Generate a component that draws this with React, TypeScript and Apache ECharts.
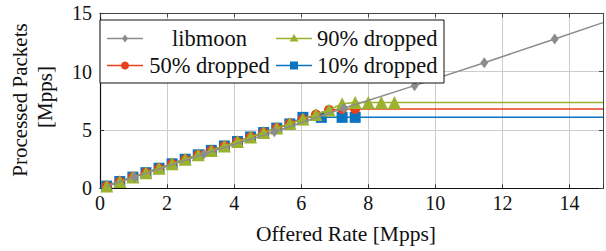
import React, { useEffect, useRef } from "react";
import * as echarts from "echarts";

// Offered rate [Mpps] for the three "dropped" runs
const dropX = [0.2, 0.59, 0.98, 1.37, 1.76, 2.15, 2.54, 2.93, 3.32, 3.71, 4.1, 4.49, 4.88, 5.27, 5.66, 6.05, 6.44, 6.83, 7.22, 7.61, 8.0, 8.39, 8.78];
// Processed packets [Mpps]
const dropped90 = [0.19, 0.58, 0.96, 1.34, 1.72, 2.1, 2.49, 2.87, 3.25, 3.63, 4.01, 4.4, 4.78, 5.16, 5.55, 5.93, 6.33, 6.72, 7.25, 7.35, 7.35, 7.35, 7.35];
const dropped50 = [0.19, 0.58, 0.96, 1.34, 1.72, 2.1, 2.49, 2.87, 3.25, 3.63, 4.01, 4.4, 4.78, 5.16, 5.55, 5.93, 6.32, 6.72, 6.8, 6.8];
const dropped10X = [0.2, 0.59, 0.98, 1.37, 1.76, 2.15, 2.54, 2.93, 3.32, 3.71, 4.1, 4.49, 4.88, 5.27, 5.66, 6.05, 6.6, 7.22, 7.61];
const dropped10 = [0.19, 0.58, 0.96, 1.34, 1.72, 2.1, 2.49, 2.87, 3.25, 3.63, 4.01, 4.4, 4.78, 5.16, 5.52, 6.08, 6.08, 6.08, 6.08];
// plateau level continues to the right edge
const plateau90 = 7.35;
const plateau50 = 6.8;
const plateau10 = 6.08;

const libmoonX = [0.2, 1.03, 3.1, 5.2, 7.27, 9.38, 11.46, 13.56, 15];
const libmoonY = [0.19, 0.96, 2.94, 4.85, 6.86, 8.8, 10.76, 12.8, 14.2];
const libmoonMarked = [false, true, true, true, true, true, true, true, false];

const xTicks = [0, 2, 4, 6, 8, 10, 12, 14];

const FONT = "Liberation Serif";
const C_GRAY = "#8c8c8c";
const C_GREEN = "#9ab22e";
const C_RED = "#e8401c";
const C_BLUE = "#0a74c2";

function zipPts(xs: number[], ys: number[]) {
  return xs.map((x, i) => [x, ys[i]]);
}

export default function App() {
  const ref = useRef<HTMLDivElement>(null);
  useEffect(() => {
    if (!ref.current) return;
    const chart = echarts.init(ref.current, null, { renderer: "svg" });

    const libData = libmoonX.map((x, i) =>
      libmoonMarked[i] ? { value: [x, libmoonY[i]] } : { value: [x, libmoonY[i]], symbol: "none" }
    );
    const d90: any[] = zipPts(dropX.slice(0, dropped90.length), dropped90);
    d90.push({ value: [15, plateau90], symbol: "none" });
    const d50: any[] = zipPts(dropX.slice(0, dropped50.length), dropped50);
    d50.push({ value: [15, plateau50], symbol: "none" });
    const d10: any[] = zipPts(dropped10X, dropped10);
    d10.push({ value: [15, plateau10], symbol: "none" });

    // legend layout
    const r1 = 38.5;
    const r2 = 65.5;
    const c1a = 107, c1b = 143, c1m = 125;
    const c2a = 276, c2b = 312, c2m = 294;
    const Z = 100;
    const lt = { fontFamily: FONT, fontSize: 22.5, fill: "#111" };
    const seg = (xa: number, xb: number, y: number, color: string) => ({
      type: "line",
      z: Z + 1,
      shape: { x1: xa, y1: y, x2: xb, y2: y },
      style: { stroke: color, lineWidth: 1.5 },
    });

    const legendEls = [
      { type: "rect", z: Z, shape: { x: 100, y: 20, width: 344, height: 63 }, style: { fill: "#fff", stroke: "#111", lineWidth: 1 } },
      seg(c1a, c1b, r1, C_GRAY),
      { type: "polygon", z: Z + 2, shape: { points: [[c1m, r1 - 4], [c1m + 3, r1], [c1m, r1 + 4], [c1m - 3, r1]] }, style: { fill: C_GRAY } },
      { type: "text", z: Z + 2, x: 209.5, y: r1, style: { ...lt, text: "libmoon", align: "center", verticalAlign: "middle" } },
      seg(c1a, c1b, r2, C_RED),
      { type: "circle", z: Z + 2, shape: { cx: c1m, cy: r2, r: 4 }, style: { fill: C_RED } },
      { type: "text", z: Z + 2, x: 209.5, y: r2, style: { ...lt, text: "50% dropped", align: "center", verticalAlign: "middle" } },
      seg(c2a, c2b, r1, C_GREEN),
      { type: "polygon", z: Z + 2, shape: { points: [[c2m, r1 - 4.5], [c2m + 4.5, r1 + 3], [c2m - 4.5, r1 + 3]] }, style: { fill: C_GREEN } },
      { type: "text", z: Z + 2, x: 317, y: r1, style: { ...lt, text: "90% dropped", align: "left", verticalAlign: "middle" } },
      seg(c2a, c2b, r2, C_BLUE),
      { type: "rect", z: Z + 2, shape: { x: c2m - 4, y: r2 - 4, width: 8, height: 8 }, style: { fill: C_BLUE } },
      { type: "text", z: Z + 2, x: 317, y: r2, style: { ...lt, text: "10% dropped", align: "left", verticalAlign: "middle" } },
    ];

    const axisFrame = (pos: string, isX: boolean) => ({
      type: "value",
      position: pos,
      min: 0,
      max: 15,
      interval: isX ? 2 : 5,
      axisLine: { show: true, onZero: false, lineStyle: { color: "#444", width: 1 } },
      axisTick: { show: true, inside: true, length: 4, lineStyle: { color: "#444" } },
      axisLabel: { show: false },
      splitLine: { show: false },
    });

    chart.setOption({
      animation: false,
      backgroundColor: "#fff",
      grid: { left: 100, right: -5.5, top: 13.3, bottom: 62.7, containLabel: false },
      xAxis: [
        {
          type: "value",
          position: "bottom",
          min: 0,
          max: 15,
          interval: 2,
          axisLine: { show: true, onZero: false, lineStyle: { color: "#111", width: 1.2 } },
          axisTick: { show: true, inside: true, length: 4, lineStyle: { color: "#333" } },
          axisLabel: {
            fontFamily: FONT,
            fontSize: 20,
            color: "#111",
            margin: 5,
            formatter: (v: number) => (xTicks.indexOf(v) >= 0 ? String(v) : ""),
          },
          splitLine: { show: true, lineStyle: { color: "#cccccc", width: 1 } },
          name: "Offered Rate [Mpps]",
          nameLocation: "middle",
          nameGap: 35,
          nameTextStyle: { fontFamily: FONT, fontSize: 21.5, color: "#111", padding: [0, 11, 0, 0] },
        },
        axisFrame("top", true),
      ],
      yAxis: [
        {
          type: "value",
          position: "left",
          min: 0,
          max: 15,
          interval: 5,
          axisLine: { show: true, onZero: false, lineStyle: { color: "#111", width: 1.2 } },
          axisTick: { show: true, inside: true, length: 4, lineStyle: { color: "#333" } },
          axisLabel: { fontFamily: FONT, fontSize: 20, color: "#111", margin: 8 },
          splitLine: { show: true, lineStyle: { color: "#cccccc", width: 1 } },
        },
        axisFrame("right", false),
      ],
      graphic: [
        ...legendEls,
        {
          type: "text",
          x: 20,
          y: 100,
          rotation: Math.PI / 2,
          style: { text: "Processed Packets", fontFamily: FONT, fontSize: 21, fill: "#111", align: "center", verticalAlign: "middle" },
        },
        {
          type: "text",
          x: 45,
          y: 97,
          rotation: Math.PI / 2,
          style: { text: "[Mpps]", fontFamily: FONT, fontSize: 21, fill: "#111", align: "center", verticalAlign: "middle" },
        },
      ],
      series: [
        {
          name: "10% dropped",
          type: "line",
          z: 2,
          data: d10,
          symbol: "rect",
          symbolSize: 11,
          color: C_BLUE,
          itemStyle: { color: C_BLUE },
          lineStyle: { color: C_BLUE, width: 1.5 },
        },
        {
          name: "50% dropped",
          type: "line",
          z: 3,
          data: d50,
          symbol: "circle",
          symbolSize: 10,
          color: C_RED,
          itemStyle: { color: C_RED },
          lineStyle: { color: C_RED, width: 1.5 },
        },
        {
          name: "90% dropped",
          type: "line",
          z: 4,
          data: d90,
          symbol: "triangle",
          symbolSize: 13,
          color: C_GREEN,
          itemStyle: { color: C_GREEN },
          lineStyle: { color: C_GREEN, width: 1.5 },
        },
        {
          name: "libmoon",
          type: "line",
          z: 5,
          data: libData,
          symbol: "diamond",
          symbolSize: [8, 11],
          color: C_GRAY,
          itemStyle: { color: C_GRAY },
          lineStyle: { color: C_GRAY, width: 1.5 },
        },
      ],
    });
    return () => chart.dispose();
  }, []);

  return (
    <div style={{ position: "absolute", left: 0, top: 0, width: 606, height: 251, overflow: "hidden", background: "#fff" }}>
      <div ref={ref} style={{ width: 606, height: 251 }} />
    </div>
  );
}
